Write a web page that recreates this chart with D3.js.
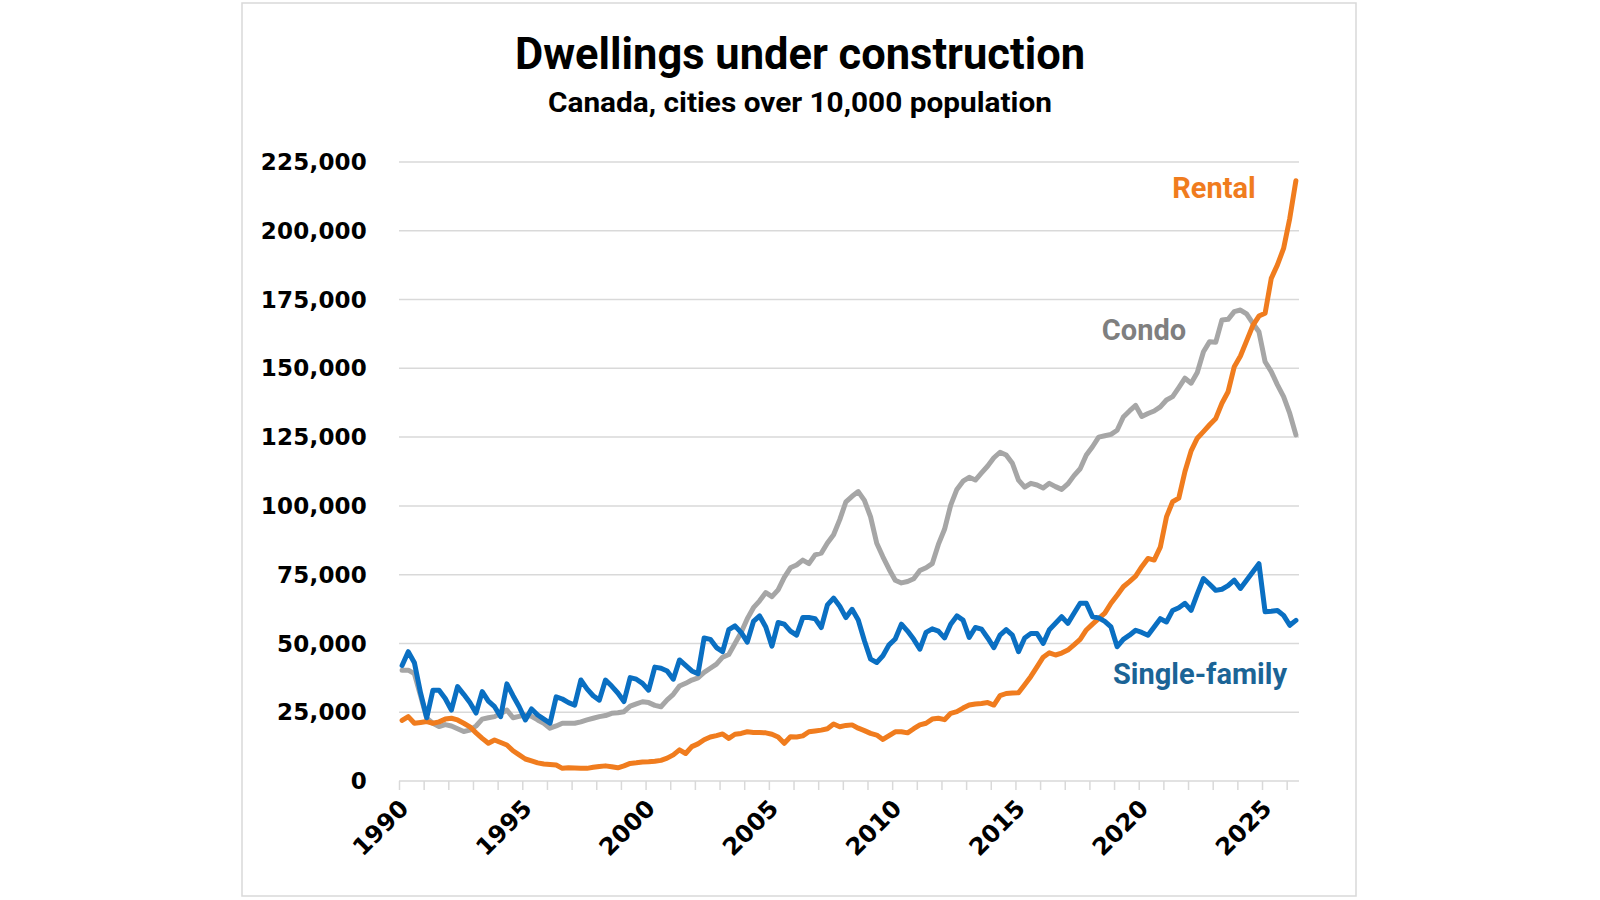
<!DOCTYPE html>
<html>
<head>
<meta charset="utf-8">
<script src="https://cdn.jsdelivr.net/npm/d3@7"></script>
<style>
  body { margin: 0; background: #ffffff; }
</style>
</head>
<body>
<svg id="chart" width="1600" height="900"></svg>
<script>
// ---------------- DATA (quarterly, thousands of dwellings) ----------------
const startYear = 1990;          // first quarter: 1990 Q1
const quartersPerYear = 4;

const singleFamily = [
  42, 47, 43, 32,        // 1990
  23, 33, 33, 30,        // 1991
  25.8, 34.3, 31.5, 28.5,// 1992
  24.7, 32.5, 29, 27,    // 1993
  23.4, 35.3, 31, 27,    // 1994
  22.2, 26.2, 24, 22.5,  // 1995
  21, 30.6, 29.8, 28.5,  // 1996
  27.6, 36.7, 33.5, 31,  // 1997
  29.4, 36.7, 34.5, 32,  // 1998
  28.9, 37.6, 37, 35.5,  // 1999
  33, 41.4, 41, 40,      // 2000
  37, 44, 42, 40,        // 2001
  39, 52, 51.5, 48.5,    // 2002
  47, 55, 56.4, 54,      // 2003
  50.5, 58, 60, 56,      // 2004
  49, 57.6, 57, 54.5,    // 2005
  53, 59.4, 59.4, 59,    // 2006
  55.8, 64, 66.5, 63.5,  // 2007
  59.4, 62.4, 58.5, 51,  // 2008
  44.3, 43.1, 45.5, 49.5,// 2009
  51.6, 57, 54.5, 51.5,  // 2010
  47.9, 54, 55.3, 54.5,  // 2011
  52, 57, 60, 58.5,      // 2012
  52.2, 55.8, 55.2, 52,  // 2013
  48.5, 53, 55, 53,      // 2014
  47, 52, 53.6, 53.6,    // 2015
  50, 55, 57.3, 59.7,    // 2016
  57.3, 61, 64.6, 64.6,  // 2017
  59.7, 59.3, 58, 56,    // 2018
  48.8, 51.5, 53, 54.8,  // 2019
  54, 53, 56, 59,        // 2020
  57.8, 62, 63, 64.6,    // 2021
  62, 68, 73.6, 71.5,    // 2022
  69.3, 69.7, 71, 73,    // 2023
  70, 73, 76, 79,        // 2024
  61.5, 61.7, 62, 60.2,  // 2025
  56.6, 58.4             // 2026
];

const condo = [
  40.3, 40.3, 39, 31,    // 1990
  22.8, 21, 19.8, 20.5,  // 1991
  20, 19, 18, 18.5,      // 1992
  20, 22.5, 23, 23.4,    // 1993
  24.5, 25.8, 23, 23.5,  // 1994
  24, 23.5, 22.2, 21,    // 1995
  19.2, 20, 21, 21,      // 1996
  21, 21.5, 22.2, 22.8,  // 1997
  23.4, 23.8, 24.6, 24.8,// 1998
  25.2, 27.2, 28, 28.8,  // 1999
  28.5, 27.5, 27, 29.5,  // 2000
  31.5, 34.5, 35.5, 36.7,// 2001
  37.5, 39.5, 41, 42.5,  // 2002
  45, 46, 50, 54,        // 2003
  59, 63, 65.5, 68.5,    // 2004
  67, 69.5, 74, 77.5,    // 2005
  78.5, 80.3, 79, 82.2,  // 2006
  82.8, 86.5, 89.5, 95,  // 2007
  101.5, 103.5, 105.2, 102, // 2008
  96, 86.4, 81.5, 77,    // 2009
  73, 72, 72.5, 73.5,    // 2010
  76.5, 77.5, 79, 86,    // 2011
  91.5, 100.3, 106, 109, // 2012
  110.4, 109.4, 112, 114.5, // 2013
  117.5, 119.5, 118.5, 115.5, // 2014
  109.4, 106.8, 108.2, 107.6, // 2015
  106.5, 108.2, 107, 106,     // 2016
  108, 111, 113.5, 118.5,     // 2017
  121.5, 125, 125.5, 126,     // 2018
  127.5, 132.3, 134.5, 136.5, // 2019
  132.5, 133.6, 134.5, 136,   // 2020
  138.5, 139.7, 143, 146.4,   // 2021
  144.6, 148.5, 156, 159.7,   // 2022
  159.5, 167.6, 167.8, 170.6, // 2023
  171.2, 169.8, 166.4, 163.3, // 2024
  152.4, 148.8, 144, 139.7,   // 2025
  133.6, 125.8                // 2026
];

const rental = [
  22, 23.4, 21, 21.3,    // 1990
  21.6, 21, 21.5, 22.5,  // 1991
  22.8, 22.2, 21, 19.7,  // 1992
  17.5, 15.5, 13.7, 14.9,// 1993
  14, 13.1, 11, 9.5,     // 1994
  8, 7.3, 6.6, 6.2,      // 1995
  6, 5.8, 4.6, 4.8,      // 1996
  4.7, 4.6, 4.6, 5,      // 1997
  5.3, 5.5, 5.2, 4.8,    // 1998
  5.5, 6.4, 6.6, 6.9,    // 1999
  7, 7.2, 7.5, 8.3,      // 2000
  9.5, 11.3, 10, 12.5,   // 2001
  13.5, 15, 16, 16.5,    // 2002
  17.1, 15.5, 17, 17.3,  // 2003
  17.9, 17.6, 17.6, 17.5,// 2004
  17, 16, 13.7, 16.1,    // 2005
  16, 16.4, 17.9, 18.2,  // 2006
  18.5, 19, 20.7, 19.7,  // 2007
  20.2, 20.4, 19.2, 18.3,// 2008
  17.3, 16.7, 15.1, 16.5,// 2009
  17.9, 17.9, 17.5, 19,  // 2010
  20.4, 21, 22.5, 22.8,  // 2011
  22.3, 24.6, 25.2, 26.5,// 2012
  27.6, 28, 28.2, 28.5,  // 2013
  27.6, 31, 31.8, 32,    // 2014
  32.1, 35, 38, 41.5,    // 2015
  45, 46.6, 45.8, 46.5,  // 2016
  47.6, 49.5, 51.5, 54.9,// 2017
  57, 59, 61, 64.6,      // 2018
  67.5, 70.6, 72.5, 74.5,// 2019
  77.9, 80.9, 80.3, 85,  // 2020
  96, 101.5, 102.8, 112.5,   // 2021
  120, 124.6, 127, 129.5,    // 2022
  131.8, 137.3, 141.5, 150.6,// 2023
  154.5, 160, 165.5, 169,    // 2024
  170, 182.7, 187.6, 193.6,  // 2025
  204.5, 218.2               // 2026
];

const yTickValues = [0, 25, 50, 75, 100, 125, 150, 175, 200, 225]; // thousands
const xTickYears = d3.range(1990, 2027);                            // minor ticks each year
const xLabelYears = [1990, 1995, 2000, 2005, 2010, 2015, 2020, 2025];
const seriesNames = ["Rental", "Condo", "Single-family"];
const titleText = "Dwellings under construction";
const subtitleText = "Canada, cities over 10,000 population";

// ---------------- CHART ----------------
const svg = d3.select("#chart");
svg.append("rect").attr("width", 1600).attr("height", 900).attr("fill", "#ffffff");

// outer frame
svg.append("rect")
  .attr("x", 242).attr("y", 3).attr("width", 1114).attr("height", 893)
  .attr("fill", "none").attr("stroke", "#d9d9d9").attr("stroke-width", 1.5);

const plot = { left: 399, right: 1299, top: 162, bottom: 781 };

const x = d3.scaleLinear().domain([1990, 2026.5]).range([plot.left, plot.right]);
const y = d3.scaleLinear().domain([0, 225]).range([plot.bottom, plot.top]);

const qDate = i => startYear + (i + 0.5) / quartersPerYear;

// gridlines
svg.append("g").selectAll("line").data(yTickValues.filter(v => v > 0)).join("line")
  .attr("x1", plot.left).attr("x2", plot.right)
  .attr("y1", d => y(d)).attr("y2", d => y(d))
  .attr("stroke", "#d9d9d9").attr("stroke-width", 1.5);

// y axis labels
const fmt = d3.format(",");
const yAxis = d3.axisLeft(y).tickValues(yTickValues).tickSize(0).tickPadding(0)
  .tickFormat(d => fmt(d * 1000));
const gy = svg.append("g").attr("transform", `translate(367,0)`).call(yAxis);
gy.select(".domain").remove();
gy.selectAll("text")
  .attr("font-family", "'DejaVu Sans', Verdana, sans-serif")
  .attr("font-weight", "bold")
  .attr("font-size", 23)
  .attr("letter-spacing", "0.2px")
  .attr("fill", "#000")
  .attr("dy", "0.33em");

// x axis line and ticks
const xAxis = d3.axisBottom(x).tickValues(xTickYears).tickSize(9).tickFormat("");
const gx = svg.append("g").attr("transform", `translate(0,${plot.bottom})`).call(xAxis);
gx.select(".domain").attr("stroke", "#d9d9d9").attr("stroke-width", 1.5)
  .attr("d", `M${plot.left},0H${plot.right}`);
gx.selectAll(".tick line").attr("stroke", "#d9d9d9").attr("stroke-width", 1.5);

// x labels (rotated)
svg.append("g").selectAll("text").data(xLabelYears).join("text")
  .attr("transform", d => `translate(${x(d) + 11},${plot.bottom + 29}) rotate(-45)`)
  .attr("text-anchor", "end")
  .attr("font-family", "'DejaVu Sans', Verdana, sans-serif")
  .attr("font-weight", "bold")
  .attr("font-size", 24)
  .attr("fill", "#000")
  .text(d => d);

// lines
const line = d3.line().x((d, i) => x(qDate(i))).y(d => y(d)).curve(d3.curveLinear);
const seriesData = [
  { name: seriesNames[1], values: condo, color: "#a6a6a6" },
  { name: seriesNames[0], values: rental, color: "#f07c1e" },
  { name: seriesNames[2], values: singleFamily, color: "#0a6fc2" }
];
svg.append("g").selectAll("path").data(seriesData).join("path")
  .attr("d", d => line(d.values))
  .attr("fill", "none")
  .attr("stroke", d => d.color)
  .attr("stroke-width", 5)
  .attr("stroke-linejoin", "round")
  .attr("stroke-linecap", "round");

// series labels
const labels = [
  { text: seriesNames[0], x: 1214, y: 198, color: "#f07c1e" },
  { text: seriesNames[1], x: 1144, y: 340, color: "#7f7f7f" },
  { text: seriesNames[2], x: 1200, y: 684, color: "#1b6496" }
];
svg.append("g").selectAll("text").data(labels).join("text")
  .attr("x", d => d.x).attr("y", d => d.y)
  .attr("text-anchor", "middle")
  .attr("font-family", "Roboto, 'Noto Sans', sans-serif")
  .attr("font-weight", "bold")
  .attr("font-size", 29)
  .attr("fill", d => d.color)
  .text(d => d.text);

// titles
svg.append("text")
  .attr("x", 800).attr("y", 69)
  .attr("text-anchor", "middle")
  .attr("font-family", "'Liberation Sans Narrow', Roboto, sans-serif")
  .attr("font-weight", "bold")
  .attr("font-size", 45)
  .attr("textLength", 570).attr("lengthAdjust", "spacingAndGlyphs")
  .attr("fill", "#000")
  .text(titleText);

svg.append("text")
  .attr("x", 800).attr("y", 112)
  .attr("text-anchor", "middle")
  .attr("font-family", "'Liberation Sans Narrow', Roboto, sans-serif")
  .attr("font-weight", "bold")
  .attr("font-size", 28)
  .attr("textLength", 504).attr("lengthAdjust", "spacingAndGlyphs")
  .attr("fill", "#000")
  .text(subtitleText);
</script>
</body>
</html>
